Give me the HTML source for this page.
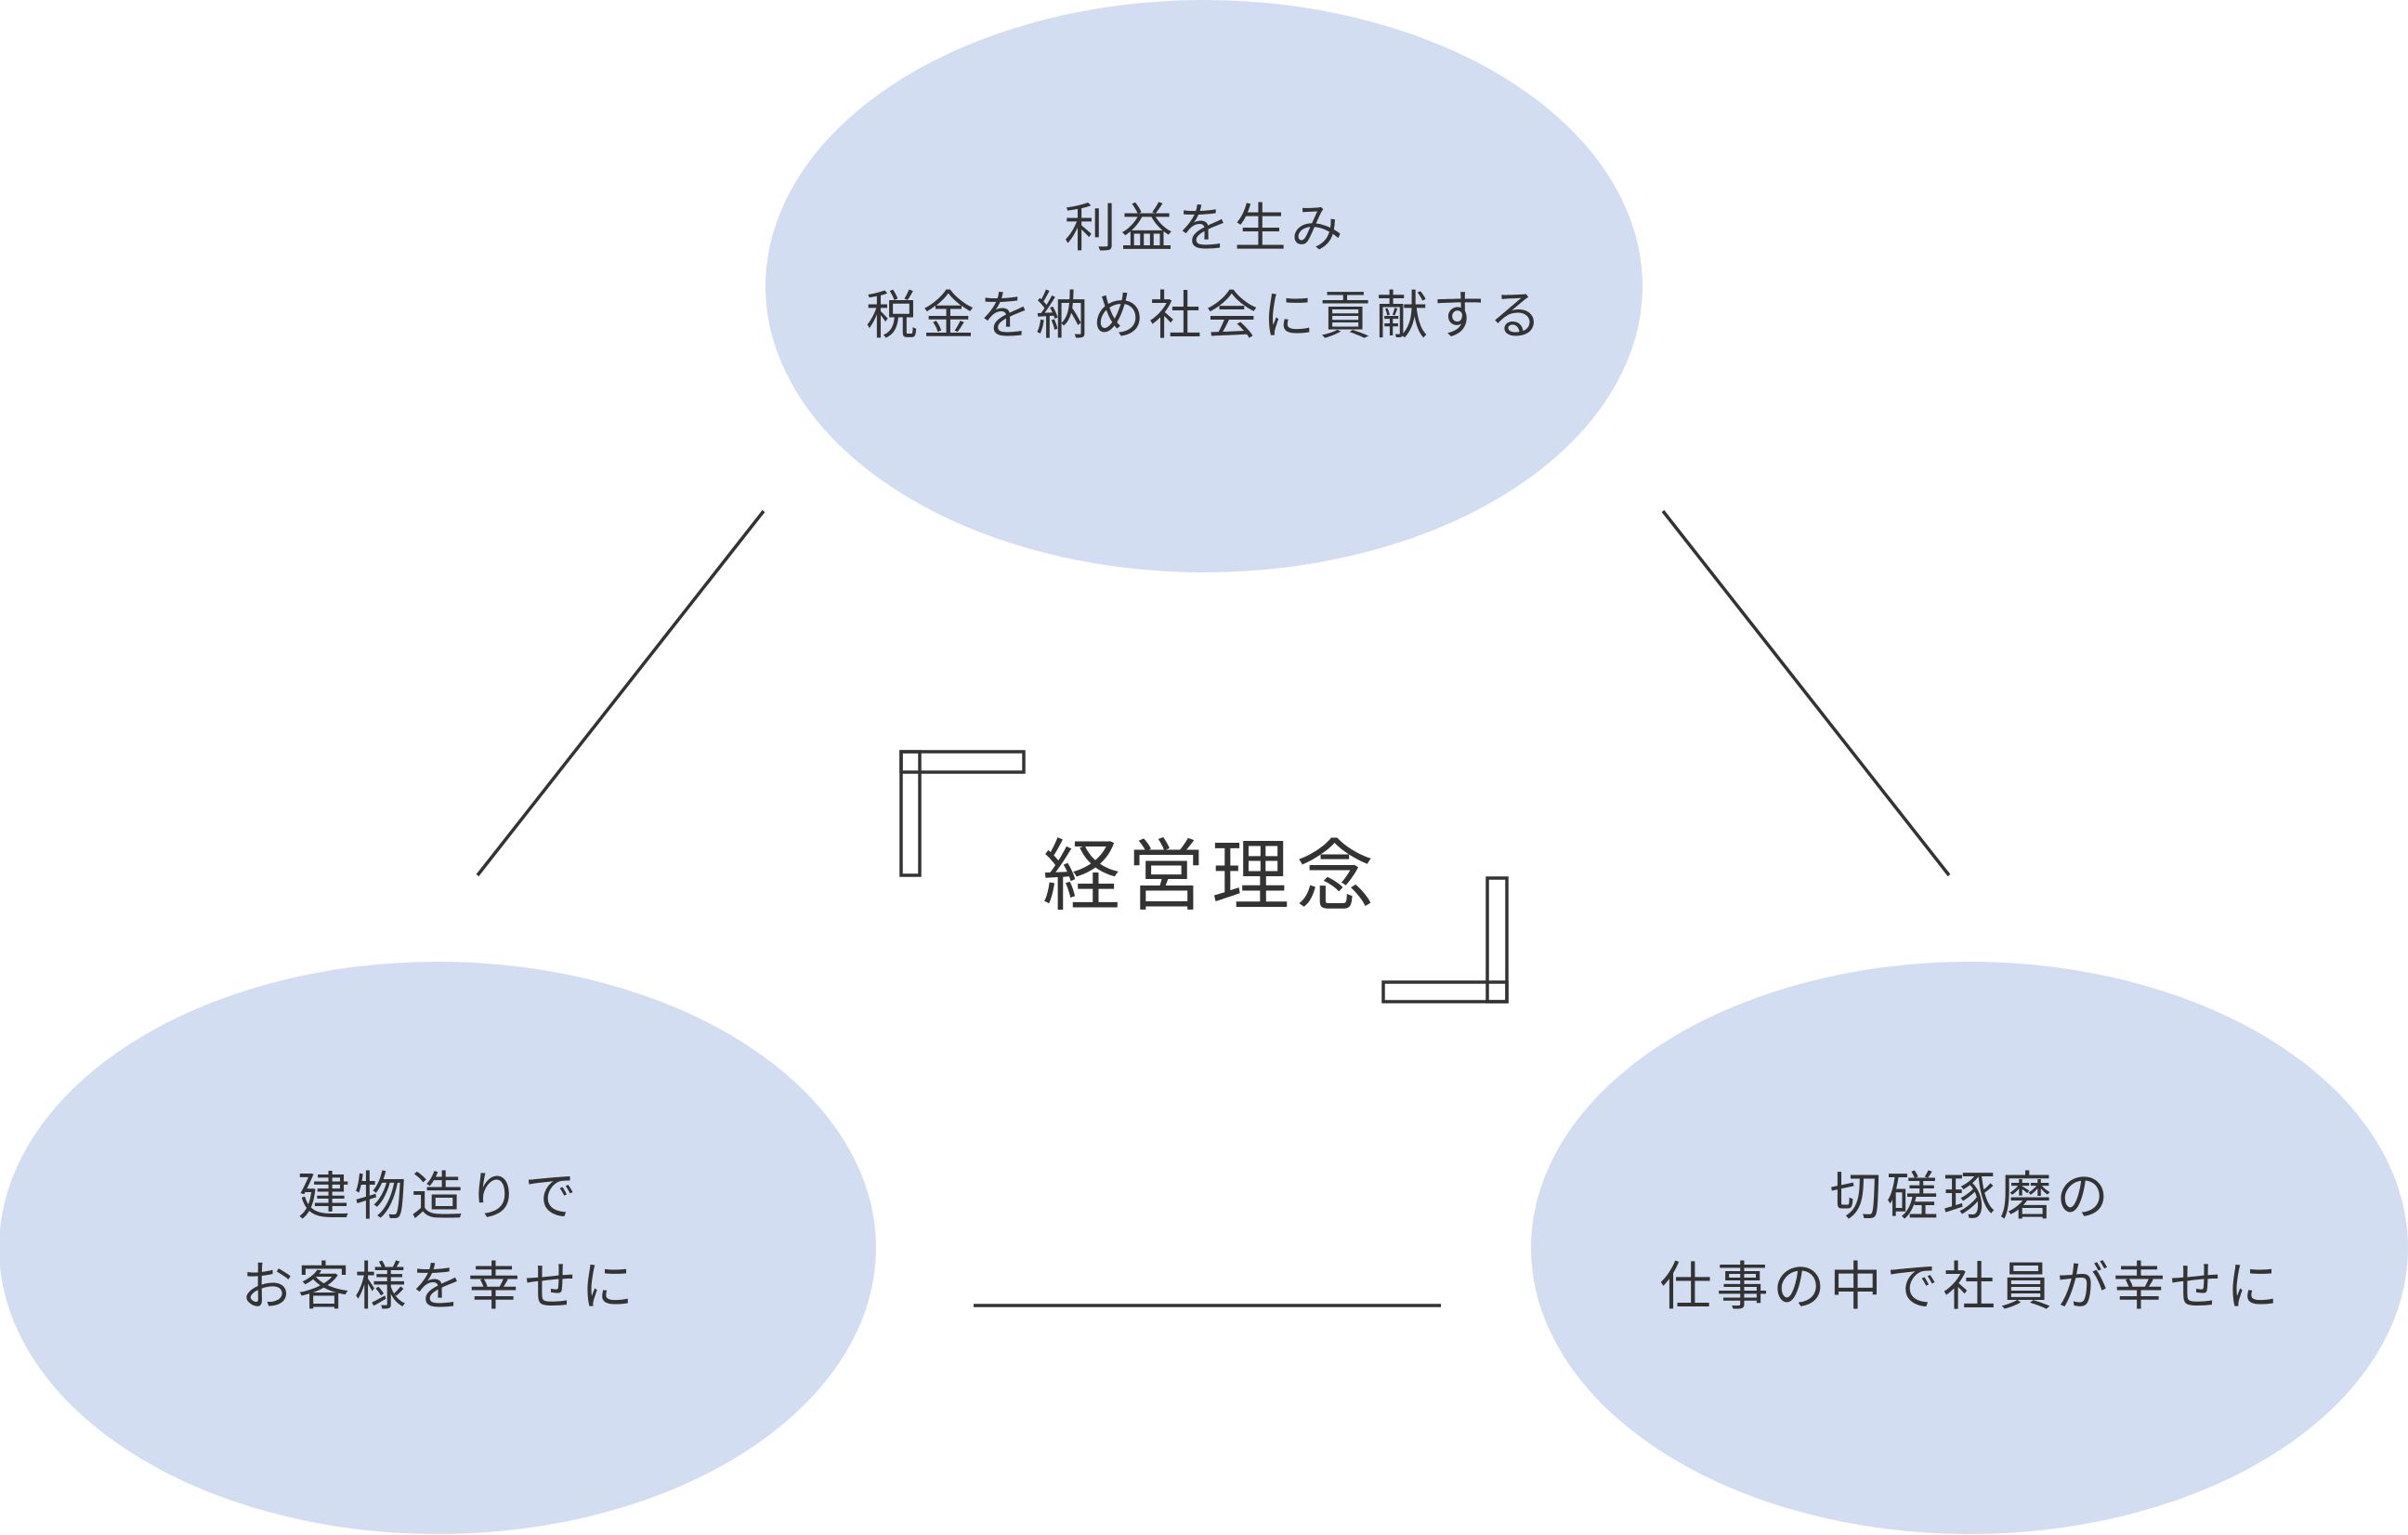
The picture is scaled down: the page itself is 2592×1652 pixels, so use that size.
<!DOCTYPE html>
<html><head><meta charset="utf-8"><style>
html,body{margin:0;padding:0;background:#fff;}
svg{display:block;}
text{font-family:"Liberation Sans","Noto Sans CJK JP",sans-serif;fill:#333;}
</style></head><body>
<svg width="2592" height="1652" viewBox="0 0 2592 1652" xmlns="http://www.w3.org/2000/svg">
<ellipse cx="1296" cy="308" rx="472" ry="308" fill="#d3ddf1"/>
<ellipse cx="471" cy="1343" rx="472" ry="308" fill="#d3ddf1"/>
<ellipse cx="2120" cy="1343" rx="472" ry="308" fill="#d3ddf1"/>
<g stroke="#333" stroke-width="3.5" fill="none">
<line x1="822" y1="550" x2="514" y2="942"/>
<line x1="1790" y1="550" x2="2098" y2="942"/>
<line x1="1048" y1="1405" x2="1551" y2="1405"/>
<rect x="970" y="809" width="132" height="22"/>
<rect x="970" y="809" width="20" height="133"/>
<rect x="1601" y="945" width="21" height="133"/>
<rect x="1489" y="1057" width="133" height="21"/>
</g>
<g font-size="56" text-anchor="middle" letter-spacing="5">
<text x="1298" y="265">利益を生み</text>
<text x="1298" y="359">税金を納め社会に貢献する</text>
<text x="473" y="1307">建物造りで</text>
<text x="473" y="1404">お客様を幸せに</text>
<text x="2122" y="1307">切磋琢磨の</text>
<text x="2122" y="1404">仕事の中で社員が幸せに</text>
</g>
<text x="1304" y="972" font-size="84" text-anchor="middle" letter-spacing="7">経営理念</text>
</svg>
</body></html>
